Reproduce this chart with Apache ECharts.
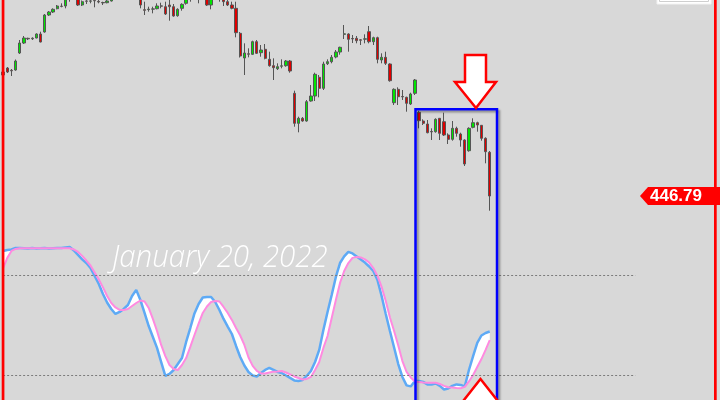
<!DOCTYPE html>
<html>
<head>
<meta charset="utf-8">
<script src="https://cdn.jsdelivr.net/npm/echarts@6/dist/echarts.min.js"></script>
<style>
    html, body { margin: 0; padding: 0; background: #d8d8d8; }
    #chart { width: 720px; height: 400px; }
</style>
</head>
<body>
<div id="chart"></div>
<script>
    // one row per bar: [open, close, low, high]
    const candles = [
        [466.63, 466.15, 465.35, 467.27],
        [467.27, 466.63, 466.47, 467.43], [466.90, 466.82, 465.99, 467.11], [466.95, 468.39, 466.84, 468.63],
        [469.67, 471.27, 469.51, 471.75], [471.27, 472.07, 471.11, 472.39], [472.02, 471.94, 471.75, 472.12],
        [471.94, 472.04, 471.75, 472.18], [472.07, 472.71, 472.02, 472.82], [472.71, 471.43, 471.38, 473.08],
        [473.03, 475.75, 472.92, 475.91], [475.75, 476.23, 475.59, 476.39], [476.23, 476.66, 476.07, 476.82],
        [476.76, 477.19, 476.66, 477.35], [477.16, 477.13, 476.98, 477.62], [477.19, 478.63, 476.82, 479.11],
        [478.79, 479.43, 477.88, 479.75], [479.11, 479.75, 478.47, 480.39], [478.63, 477.35, 477.19, 479.11],
        [477.35, 477.88, 477.19, 478.07], [477.99, 477.96, 477.51, 478.47], [477.96, 478.01, 477.62, 478.47],
        [478.07, 478.02, 476.98, 478.47], [477.93, 477.83, 477.62, 478.31], [477.75, 477.69, 477.35, 477.88],
        [477.72, 477.99, 477.62, 478.15], [477.99, 478.47, 477.91, 478.79], [478.63, 479.43, 478.31, 479.75],
        [479.43, 480.07, 479.11, 480.55], [480.07, 479.75, 479.11, 480.71], [479.75, 480.39, 479.27, 480.87],
        [480.39, 479.59, 478.95, 480.71], [479.59, 479.11, 478.47, 480.07], [478.79, 477.35, 476.82, 479.11],
        [476.60, 476.50, 475.75, 477.88], [476.61, 476.69, 476.28, 477.08], [476.69, 476.73, 476.02, 477.08],
        [476.76, 477.19, 476.66, 477.62], [477.21, 477.17, 476.82, 477.72], [477.08, 475.91, 475.75, 477.88],
        [477.35, 477.08, 474.84, 478.15], [477.08, 475.59, 475.48, 477.51], [475.64, 476.66, 475.48, 476.82],
        [476.82, 477.46, 476.44, 477.62], [477.62, 478.31, 477.40, 478.63], [478.63, 479.11, 477.88, 479.59],
        [478.95, 479.59, 478.31, 480.07], [478.47, 479.11, 477.62, 479.59], [478.79, 479.43, 478.31, 479.75],
        [478.47, 477.35, 477.19, 478.95], [477.35, 478.47, 476.66, 478.95], [478.63, 479.27, 478.31, 479.75],
        [478.47, 478.95, 477.88, 479.43], [478.31, 477.88, 477.19, 478.63], [477.88, 477.35, 477.19, 478.15],
        [477.35, 476.82, 476.66, 477.88], [476.82, 472.92, 472.18, 477.88], [472.82, 469.19, 468.95, 473.03],
        [468.87, 469.67, 466.15, 471.22], [469.54, 469.48, 468.98, 470.42], [469.46, 471.48, 469.35, 471.64],
        [471.48, 469.62, 469.51, 471.75], [469.72, 470.15, 469.08, 470.95], [470.26, 468.82, 468.66, 471.11],
        [468.66, 467.64, 467.48, 469.88], [467.64, 467.32, 465.35, 468.82], [467.16, 467.48, 466.95, 468.02],
        [467.56, 467.62, 467.22, 468.66], [467.64, 468.39, 467.48, 468.55], [468.39, 466.79, 466.52, 468.55],
        [463.22, 458.42, 457.88, 463.64], [458.42, 459.22, 456.98, 459.48], [459.22, 458.79, 458.68, 459.43],
        [458.79, 461.88, 458.68, 462.15], [461.99, 462.79, 461.88, 464.55], [462.79, 466.26, 461.99, 466.52],
        [465.78, 464.02, 462.58, 466.15], [464.02, 467.91, 463.75, 468.28], [467.96, 468.28, 467.75, 468.66],
        [468.28, 468.98, 468.02, 469.35], [469.03, 469.83, 468.82, 470.15], [469.83, 470.58, 469.40, 470.68],
        [472.66, 472.74, 471.91, 474.15], [472.71, 471.86, 469.88, 472.82], [471.99, 471.93, 471.27, 472.55],
        [472.02, 471.64, 471.22, 472.39], [471.78, 471.72, 470.95, 471.91], [471.88, 471.94, 471.22, 472.66],
        [473.08, 471.48, 471.22, 473.99], [471.48, 472.12, 470.95, 472.28], [472.12, 468.66, 468.02, 472.28],
        [468.55, 468.98, 468.02, 469.62], [468.98, 468.02, 467.75, 469.88], [467.91, 465.24, 465.08, 468.02],
        [461.72, 463.86, 461.35, 464.02], [463.86, 462.68, 461.35, 464.18], [462.71, 462.65, 462.15, 463.75],
        [462.58, 461.62, 460.28, 462.68], [461.51, 463.11, 461.35, 463.32], [463.22, 465.35, 462.95, 465.51],
        [460.18, 458.84, 457.62, 460.44], [458.79, 458.42, 458.15, 459.06], [458.31, 456.92, 456.82, 458.95],
        [457.11, 457.05, 455.75, 457.62], [457.08, 459.06, 456.92, 459.22], [459.22, 456.82, 455.75, 459.27],
        [458.68, 456.55, 456.39, 460.12], [456.55, 455.86, 455.11, 456.82], [455.86, 457.62, 455.64, 458.79],
        [457.62, 456.82, 456.28, 457.88], [456.71, 455.75, 454.68, 456.92], [455.75, 451.91, 451.59, 455.86],
        [454.04, 457.62, 453.88, 457.78], [457.78, 458.52, 457.62, 459.22], [458.52, 458.15, 457.08, 458.68],
        [458.10, 456.02, 455.64, 458.15], [456.02, 453.88, 452.02, 456.18], [453.78, 446.79, 444.44, 453.99]
    ];

    const stochK = [
        94.8, 95.4, 95.7, 96.6, 96.6, 96.4, 96.2, 96.5, 96.3, 96.4, 96.6, 96.3, 96.4, 96.5, 96.6, 96.9, 97.2,
        95.1, 92.4, 89.7, 87.5, 84.5, 79.7, 74.9, 68.8, 63.7, 59.8, 56.8, 58.0, 59.8, 62.2, 67.6, 71.3,
        65.2, 57.4, 49.5, 42.9, 36.3, 27.8, 19.4, 20.6, 23.0, 26.6, 30.2, 39.9, 48.3, 57.1, 62.8, 66.7,
        67.0, 67.0, 64.0, 59.2, 53.8, 49.2, 44.7, 37.5, 30.8, 25.7, 21.8, 19.7, 19.1, 21.2, 23.0, 24.2,
        23.0, 21.8, 21.2, 19.7, 18.2, 16.7, 16.4, 17.0, 19.4, 22.4, 27.8, 35.1, 47.1, 58.0, 68.2, 79.1,
        87.5, 91.5, 94.2, 93.3, 91.5, 89.7, 87.8, 85.4, 82.7, 77.3, 67.6, 56.8, 46.5, 36.6, 26.6, 18.8,
        13.7, 13.1, 16.4, 16.4, 15.8, 14.3, 14.3, 14.9, 13.4, 11.2, 11.8, 13.4, 14.3, 14.0, 13.1, 23.0,
        31.4, 39.3, 43.8, 45.3, 46.2
    ];

    const stochD = [
        84.5, 90.6, 94.8, 96.0, 96.4, 96.4, 96.4, 96.4, 96.4, 96.4, 96.4, 96.4, 96.4, 96.4, 96.4, 96.4, 96.4,
        95.7, 94.2, 91.8, 89.0, 86.0, 81.8, 77.6, 72.8, 67.6, 63.4, 60.7, 59.2, 59.2, 59.8, 61.6, 63.4,
        64.9, 64.3, 60.4, 53.8, 46.5, 38.1, 31.4, 26.0, 23.6, 23.0, 26.0, 30.2, 36.9, 44.1, 51.0, 57.4,
        61.3, 64.0, 64.6, 64.3, 61.0, 57.4, 53.2, 48.3, 43.8, 38.1, 30.5, 25.5, 22.4, 20.9, 20.9, 21.5,
        22.0, 22.1, 22.4, 21.5, 20.3, 19.1, 18.2, 17.3, 17.6, 18.8, 23.0, 27.8, 36.3, 43.5, 54.4, 65.2,
        75.5, 82.7, 87.5, 90.6, 91.2, 90.9, 89.7, 87.8, 84.5, 79.7, 73.1, 64.6, 54.7, 46.5, 37.8, 28.4,
        21.8, 18.5, 16.1, 15.8, 15.5, 15.3, 15.3, 15.3, 14.6, 13.4, 12.6, 12.5, 12.2, 12.0, 12.8, 16.1,
        20.0, 24.8, 29.6, 35.1, 41.0
    ];

    const levels = [80, 20];
    const dateText = 'January 20, 2022';

    const slotCount = 172;   // bars + empty room on the right
    const levelEnd = 152;    // where the dotted levels stop

    const slots = Array.from({length: slotCount}, (_, i) => String(i));
    const bandLow = stochK.map((k, i) => Math.min(k, stochD[i]));
    const bandGap = stochK.map((k, i) => Math.abs(k - stochD[i]));

    const gridLeft = 1.06;
    const gridWidth = 715.35;

    const chart = echarts.init(document.getElementById('chart'));

    chart.setOption({
        animation: false,
        backgroundColor: '#d8d8d8',
        grid: [
            {left: gridLeft, width: gridWidth, top: 0, height: 240},
            // the oscillator pane runs past the bottom edge; 100 sits at y 242, 4.9 at y 400
            {left: gridLeft, width: gridWidth, top: 242.3, height: 157.7}
        ],
        xAxis: [
            {type: 'category', gridIndex: 0, data: slots, boundaryGap: true, show: false},
            {type: 'category', gridIndex: 1, data: slots, boundaryGap: true, show: false}
        ],
        yAxis: [
            {type: 'value', gridIndex: 0, min: 439.75, max: 478.15, show: false, splitLine: {show: false}},
            {type: 'value', gridIndex: 1, min: 4.9, max: 100, show: false, splitLine: {show: false}}
        ],
        series: [
            {
                type: 'candlestick',
                xAxisIndex: 0,
                yAxisIndex: 0,
                data: candles,
                barWidth: 2.8,
                clip: true,
                itemStyle: {
                    color: '#00e600',
                    color0: '#e00000',
                    borderColor: '#555555',
                    borderColor0: '#555555',
                    borderWidth: 1
                }
            },
            {
                type: 'line',
                xAxisIndex: 1,
                yAxisIndex: 1,
                data: bandLow,
                stack: 'band',
                symbol: 'none',
                silent: true,
                lineStyle: {width: 0, opacity: 0},
                markLine: {
                    silent: true,
                    symbol: 'none',
                    label: {show: false},
                    lineStyle: {color: '#7c7c7c', width: 1, type: [2, 2]},
                    data: levels.map(v => [{xAxis: 0, yAxis: v}, {xAxis: levelEnd, yAxis: v}])
                }
            },
            {
                type: 'line',
                xAxisIndex: 1,
                yAxisIndex: 1,
                data: bandGap,
                stack: 'band',
                symbol: 'none',
                silent: true,
                lineStyle: {width: 0, opacity: 0},
                areaStyle: {color: '#ffffff', opacity: 1}
            },
            {
                type: 'line',
                xAxisIndex: 1,
                yAxisIndex: 1,
                data: stochK,
                symbol: 'none',
                lineStyle: {color: '#5eaaf5', width: 2.5}
            },
            {
                type: 'line',
                xAxisIndex: 1,
                yAxisIndex: 1,
                data: stochD,
                symbol: 'none',
                lineStyle: {color: '#ff8ae0', width: 2}
            }
        ]
    });

    // price tag follows the last close
    const lastClose = candles[candles.length - 1][1];
    const tagY = chart.convertToPixel({yAxisIndex: 0}, lastClose);

    chart.setOption({
        graphic: [
            {
                type: 'rect', z: 100,
                shape: {x: 415.5, y: 109.3, width: 81.5, height: 330},
                style: {
                    fill: 'none', stroke: '#0000ff', lineWidth: 2.5,
                    shadowBlur: 2, shadowOffsetX: 2, shadowOffsetY: 2, shadowColor: 'rgba(0,0,0,0.35)'
                }
            },
            {
                type: 'polygon', z: 101,
                shape: {points: [[465, 55], [486, 55], [486, 82], [496, 82], [476, 108], [455, 82], [465, 82]]},
                style: {fill: '#ffffff', stroke: '#ff0000', lineWidth: 2.5}
            },
            {
                type: 'polygon', z: 101,
                shape: {points: [[480.5, 379], [501, 405], [491, 405], [491, 432], [470, 432], [470, 405], [460, 405]]},
                style: {fill: '#ffffff', stroke: '#ff0000', lineWidth: 2.5}
            },
            {
                type: 'text', z: 101,
                x: 112, y: 258,
                scaleX: 0.95,
                style: {
                    text: dateText,
                    fill: '#ffffff',
                    fontFamily: 'Open Sans',
                    fontStyle: 'italic',
                    fontWeight: 300,
                    fontSize: 31,
                    align: 'left', verticalAlign: 'middle',
                    textAlign: 'left', textVerticalAlign: 'middle'
                }
            },
            {
                type: 'polygon', z: 102,
                shape: {points: [[640, tagY], [648, tagY - 9], [720, tagY - 9], [720, tagY + 9], [648, tagY + 9]]},
                style: {fill: '#ff0000'}
            },
            {
                type: 'text', z: 103,
                x: 676, y: tagY,
                style: {
                    text: lastClose.toFixed(2),
                    fill: '#ffffff',
                    fontFamily: 'Liberation Sans',
                    fontWeight: 'bold',
                    fontSize: 17,
                    align: 'center', verticalAlign: 'middle',
                    textAlign: 'center', textVerticalAlign: 'middle'
                }
            },
            {
                type: 'rect', z: 100,
                shape: {x: 657, y: -8, width: 54, height: 12},
                style: {fill: '#ffffff', stroke: '#f2f2f2', lineWidth: 1}
            },
            {
                type: 'rect', z: 101,
                shape: {x: 659.5, y: -8, width: 49, height: 9.5},
                style: {fill: 'none', stroke: '#cfcfcf', lineWidth: 1}
            },
            {
                type: 'rect', z: 104,
                shape: {x: 1.7, y: 0, width: 2.7, height: 400},
                style: {fill: '#ff0000'}
            },
            {
                type: 'rect', z: 104,
                shape: {x: 714, y: 0, width: 2.7, height: 400},
                style: {fill: '#ff0000'}
            }
        ]
    });
</script>
</body>
</html>
